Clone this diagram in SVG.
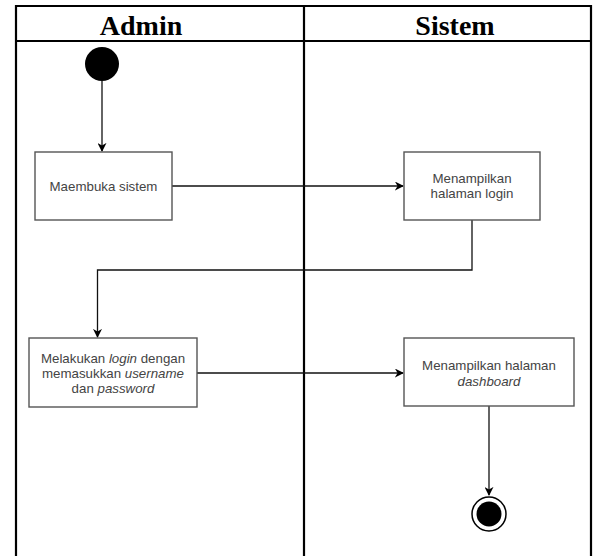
<svg xmlns="http://www.w3.org/2000/svg" width="595" height="556" viewBox="0 0 595 556">
<style>
.lane{fill:none;stroke:#000;stroke-width:2.2}
.hdr{font-family:"Liberation Serif","Times New Roman",serif;font-weight:bold;font-size:28px;fill:#000;text-anchor:middle}
.box{fill:#fff;stroke:#555;stroke-width:1.4}
.lbl{font-family:"Liberation Sans",Arial,sans-serif;font-size:13.3px;fill:#444;text-anchor:middle}
.it{font-style:italic}
.edge{fill:none;stroke:#111;stroke-width:1.3}
</style>
<defs>
<marker id="arr" viewBox="0 0 10 10" refX="9" refY="5" markerWidth="9" markerHeight="9" markerUnits="userSpaceOnUse" orient="auto">
<path d="M0,0 L10,5 L0,10 L3,5 Z" fill="#000"/>
</marker>
</defs>
<rect width="595" height="556" fill="#fff"/>
<g id="pool">
<path class="lane" d="M16,562 V6 H591 V562 M16,41 H591 M304,6 V562"/>
<text class="hdr" x="141" y="35">Admin</text>
<text class="hdr" x="455" y="35">Sistem</text>
</g>
<g id="connectors">
<path class="edge" d="M102,81 V151" marker-end="url(#arr)"/>
<path class="edge" d="M172,186 H403" marker-end="url(#arr)"/>
<path class="edge" d="M472,220 V270 H97.5 V337" marker-end="url(#arr)"/>
<path class="edge" d="M197,373 H403" marker-end="url(#arr)"/>
<path class="edge" d="M489,406 V495" marker-end="url(#arr)"/>
</g>
<g id="start">
<circle cx="102" cy="64" r="17" fill="#000"/>
</g>
<g id="n1">
<rect class="box" x="35" y="152" width="137" height="68"/>
<text class="lbl" x="103.5" y="191">Maembuka sistem</text>
</g>
<g id="n2">
<rect class="box" x="404" y="152" width="136" height="68"/>
<text class="lbl" x="472" y="182.5">Menampilkan</text>
<text class="lbl" x="472" y="198">halaman login</text>
</g>
<g id="n3">
<rect class="box" x="29" y="338" width="168" height="69"/>
<text class="lbl" x="113" y="362.5">Melakukan <tspan class="it">login</tspan> dengan</text>
<text class="lbl" x="113" y="377.5">memasukkan <tspan class="it">username</tspan></text>
<text class="lbl" x="113" y="393">dan <tspan class="it">password</tspan></text>
</g>
<g id="n4">
<rect class="box" x="404" y="338" width="170" height="68"/>
<text class="lbl" x="489" y="370">Menampilkan halaman</text>
<text class="lbl it" x="489" y="386">dashboard</text>
</g>
<g id="end">
<circle cx="489" cy="514" r="17" fill="#fff" stroke="#000" stroke-width="1.5"/>
<circle cx="489" cy="514" r="12.5" fill="#000"/>
</g>
</svg>
